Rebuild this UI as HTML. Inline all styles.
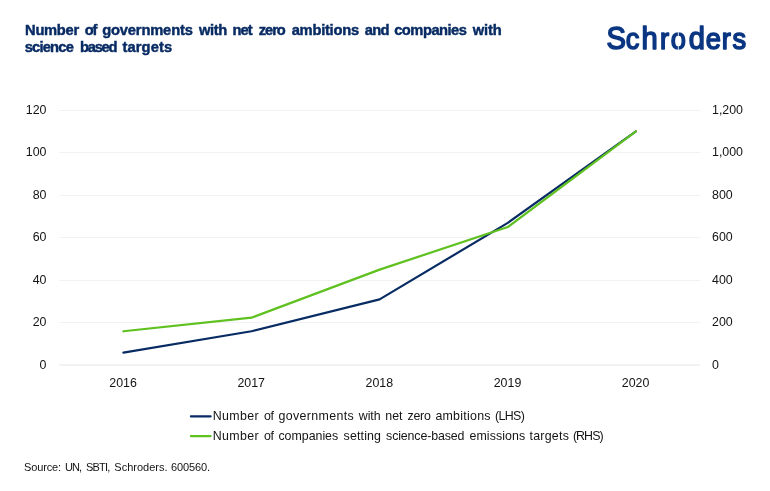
<!DOCTYPE html>
<html lang="en">
<head>
<meta charset="utf-8">
<title>Number of governments with net zero ambitions and companies with science based targets</title>
<style>
html,body{margin:0;padding:0;background:#fff;}
body{width:770px;height:491px;overflow:hidden;position:relative;font-family:"Liberation Sans",sans-serif;}
svg{position:absolute;left:0;top:0;display:block;}
text{font-family:"Liberation Sans",sans-serif;white-space:pre;}
.title{font-weight:bold;font-size:14.7px;fill:#082b63;stroke:#082b63;stroke-width:0.45px;}
.ax{font-size:12.4px;fill:#141414;}
.lg{font-size:12.4px;fill:#141414;}
.src{font-size:11.0px;fill:#141414;}
.logo{font-weight:normal;font-size:32px;fill:#0a3682;stroke:#0a3682;stroke-width:1.35px;stroke-linejoin:round;}
</style>
</head>
<body>
<svg width="770" height="491" viewBox="0 0 770 491">
  <rect width="770" height="491" fill="#ffffff"/>

  <!-- title -->
  <text class="title" y="35.1"><tspan x="25.10" style="letter-spacing:-0.296px">Number </tspan><tspan x="84.80" style="letter-spacing:-1.172px">of </tspan><tspan x="102.20" style="letter-spacing:-0.156px">governments </tspan><tspan x="198.90" style="letter-spacing:-0.332px">with </tspan><tspan x="232.50" style="letter-spacing:-0.920px">net </tspan><tspan x="258.80" style="letter-spacing:-1.076px">zero </tspan><tspan x="291.70" style="letter-spacing:-0.249px">ambitions </tspan><tspan x="364.80" style="letter-spacing:-0.770px">and </tspan><tspan x="394.20" style="letter-spacing:-0.495px">companies </tspan><tspan x="472.80" style="letter-spacing:-0.132px">with</tspan></text>
  <text class="title" y="51.8"><tspan x="24.70" style="letter-spacing:-0.788px">science </tspan><tspan x="79.90" style="letter-spacing:-1.194px">based </tspan><tspan x="122.50" style="letter-spacing:0.099px">targets</tspan></text>

  <!-- logo -->
  <g transform="translate(0,48.7) scale(0.94,1)"><text x="645.14 665.64 682.49 702.21 713.60 732.62 750.94 767.96 779.17" y="0" style="font-family:'Liberation Sans',sans-serif;font-weight:normal;font-size:29px;fill:#0a3682;stroke:#0a3682;stroke-width:1.55px;stroke-linejoin:round"><tspan style="font-size:31px">S</tspan>c<tspan style="font-size:31px">h</tspan>ro<tspan style="font-size:31px">d</tspan>ers</text></g>
  <rect x="677.85" y="30" width="0.9" height="6.5" fill="#fff" opacity="0.9"/>
  <rect x="677.85" y="44.5" width="0.9" height="6" fill="#fff" opacity="0.9"/>

  <!-- gridlines -->
  <g fill="#f2f2f2">
    <rect x="59.2" y="110" width="640.8" height="1"/>
    <rect x="59.2" y="152" width="640.8" height="1"/>
    <rect x="59.2" y="195" width="640.8" height="1"/>
    <rect x="59.2" y="237" width="640.8" height="1"/>
    <rect x="59.2" y="280" width="640.8" height="1"/>
    <rect x="59.2" y="322" width="640.8" height="1"/>
    <rect x="59.2" y="364" width="640.8" height="2"/>
  </g>

  <!-- left axis -->
  <g class="ax" text-anchor="end">
    <text x="46.5" y="114.0">120</text>
    <text x="46.5" y="156.0">100</text>
    <text x="46.5" y="199.0">80</text>
    <text x="46.5" y="241.0">60</text>
    <text x="46.5" y="284.0">40</text>
    <text x="46.5" y="326.0">20</text>
    <text x="46.5" y="368.5">0</text>
  </g>
  <!-- right axis -->
  <g class="ax">
    <text x="712.0" y="114.0">1,200</text>
    <text x="712.0" y="156.0">1,000</text>
    <text x="712.0" y="199.0">800</text>
    <text x="712.0" y="241.0">600</text>
    <text x="712.0" y="284.0">400</text>
    <text x="712.0" y="326.0">200</text>
    <text x="712.0" y="368.5">0</text>
  </g>
  <!-- x axis -->
  <g class="ax" text-anchor="middle">
    <text x="123.1" y="387.2">2016</text>
    <text x="251.2" y="387.2">2017</text>
    <text x="379.3" y="387.2">2018</text>
    <text x="507.5" y="387.2">2019</text>
    <text x="635.6" y="387.2">2020</text>
  </g>

  <!-- series -->
  <polyline fill="none" stroke="#082b63" stroke-width="2.2" stroke-linecap="round" stroke-linejoin="round" points="123.4,352.54 251.5,331.28 379.6,299.38 507.8,222.83 635.9,131.40"/>
  <polyline fill="none" stroke="#5fc11f" stroke-width="2.2" stroke-linecap="round" stroke-linejoin="round" points="123.4,331.28 251.5,317.67 379.6,269.61 507.8,227.08 635.9,131.40"/>

  <!-- legend -->
  <line x1="190.9" x2="210.6" y1="416.4" y2="416.4" stroke="#082b63" stroke-width="2.2" stroke-linecap="round"/>
  <line x1="190.9" x2="210.6" y1="436.1" y2="436.1" stroke="#5fc11f" stroke-width="2.2" stroke-linecap="round"/>
  <text class="lg" y="419.6"><tspan x="212.70" style="letter-spacing:0.371px">Number </tspan><tspan x="264.00" style="letter-spacing:-0.391px">of </tspan><tspan x="278.40" style="letter-spacing:0.377px">governments </tspan><tspan x="358.80" style="letter-spacing:-0.081px">with </tspan><tspan x="385.30" style="letter-spacing:-0.041px">net </tspan><tspan x="407.60" style="letter-spacing:-0.304px">zero </tspan><tspan x="435.40" style="letter-spacing:0.258px">ambitions </tspan><tspan x="495.10" style="letter-spacing:-0.657px">(LHS)</tspan></text>
  <text class="lg" y="439.6"><tspan x="212.70" style="letter-spacing:0.371px">Number </tspan><tspan x="264.00" style="letter-spacing:-0.391px">of </tspan><tspan x="278.40" style="letter-spacing:-0.016px">companies </tspan><tspan x="343.60" style="letter-spacing:0.147px">setting </tspan><tspan x="386.10" style="letter-spacing:-0.134px">science-based </tspan><tspan x="469.50" style="letter-spacing:0.064px">emissions </tspan><tspan x="529.50" style="letter-spacing:0.253px">targets </tspan><tspan x="572.90" style="letter-spacing:-0.922px">(RHS)</tspan></text>

  <!-- source -->
  <text class="src" y="470.8"><tspan x="24.00" style="letter-spacing:-0.126px">Source: </tspan><tspan x="65.00" style="letter-spacing:-0.894px">UN, </tspan><tspan x="86.00" style="letter-spacing:-0.787px">SBTI, </tspan><tspan x="114.30" style="letter-spacing:-0.004px">Schroders. </tspan><tspan x="171.10" style="letter-spacing:-0.134px">600560.</tspan></text>
</svg>
</body>
</html>
